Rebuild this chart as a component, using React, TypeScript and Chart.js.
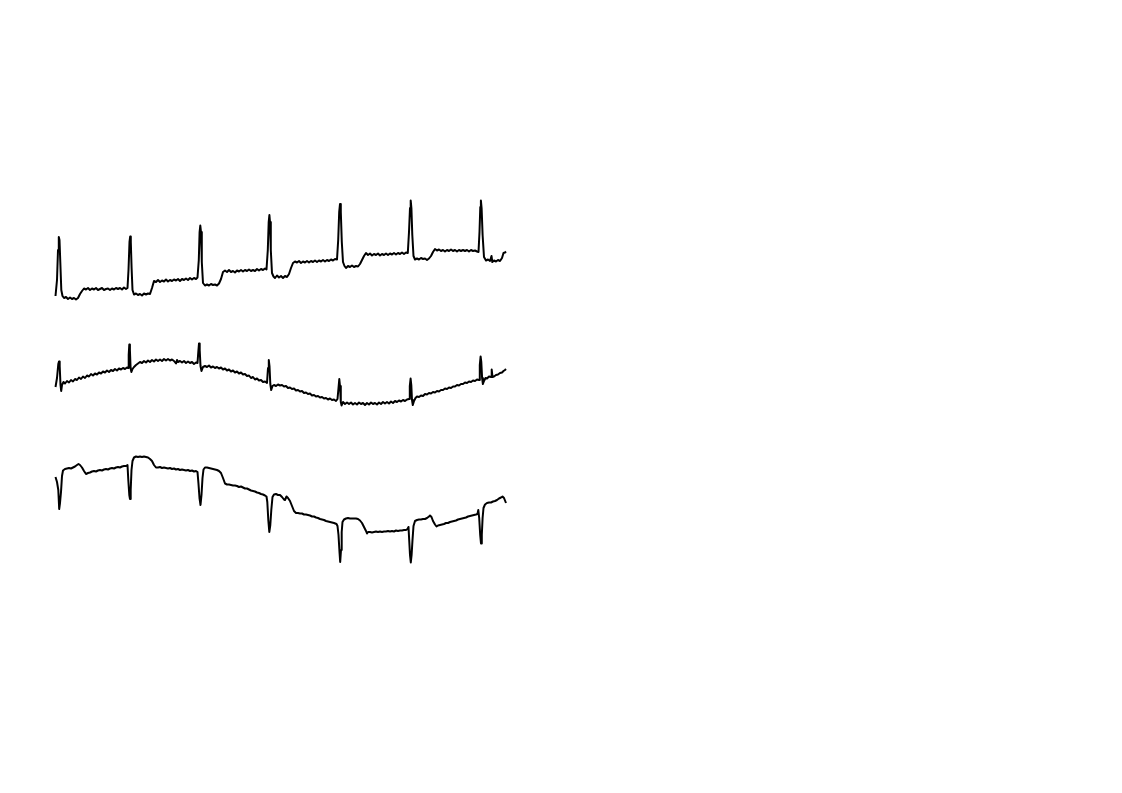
import React, { useEffect, useRef } from "react";
import { Chart, registerables } from "chart.js";

Chart.register(...registerables);

// Three ECG leads: [time (s), amplitude (mV)]
const leadI: [number, number][] = [
  [0.01,-0.12],[0.04,0.20],[0.06,0.80],[0.076,1.06],[0.09,1.00],[0.106,0.56],[0.126,0.00],[0.15,-0.12],[0.18,-0.16],
  [0.22,-0.14],[0.26,-0.18],[0.30,-0.15],[0.34,-0.18],[0.38,-0.16],[0.42,-0.19],[0.46,-0.16],[0.50,-0.08],[0.54,-0.02],
  [0.58,0.03],[0.62,0.01],[0.66,0.04],[0.70,0.00],[0.74,0.03],[0.78,0.01],[0.82,0.04],[0.86,0.00],[0.90,0.02],[0.94,0.04],
  [0.98,0.00],[1.02,0.02],[1.06,0.03],[1.10,0.00],[1.14,0.03],[1.18,0.01],[1.22,0.04],[1.26,0.02],[1.30,0.04],[1.34,0.01],
  [1.38,0.05],[1.42,0.02],[1.45,0.04],
  [1.47,0.40],[1.49,0.96],[1.504,1.07],[1.516,0.96],[1.532,0.44],[1.55,0.00],[1.58,-0.09],[1.62,-0.07],[1.66,-0.10],
  [1.70,-0.08],[1.74,-0.11],[1.78,-0.07],[1.82,-0.09],[1.86,-0.07],[1.90,-0.08],[1.94,0.04],[1.98,0.18],[2.02,0.16],
  [2.06,0.20],[2.10,0.16],[2.14,0.19],[2.18,0.17],[2.22,0.21],[2.26,0.17],[2.30,0.20],[2.34,0.18],[2.38,0.21],[2.42,0.19],
  [2.46,0.22],[2.50,0.18],[2.54,0.22],[2.58,0.20],[2.62,0.23],[2.66,0.20],[2.70,0.24],[2.74,0.21],[2.78,0.24],[2.82,0.22],
  [2.85,0.25],
  [2.876,0.60],[2.892,1.16],[2.906,1.29],[2.92,1.16],[2.936,0.56],[2.96,0.14],[3.00,0.09],[3.04,0.11],[3.08,0.09],
  [3.12,0.12],[3.16,0.10],[3.20,0.11],[3.24,0.09],[3.28,0.13],[3.32,0.22],[3.36,0.36],[3.40,0.39],[3.44,0.36],[3.48,0.40],
  [3.52,0.36],[3.56,0.38],[3.60,0.35],[3.64,0.39],[3.68,0.37],[3.72,0.40],[3.76,0.37],[3.80,0.40],[3.84,0.38],[3.88,0.41],
  [3.92,0.38],[3.96,0.40],[4.00,0.38],[4.04,0.42],[4.08,0.39],[4.12,0.42],[4.16,0.40],[4.20,0.43],[4.23,0.41],
  [4.256,0.80],[4.274,1.36],[4.288,1.50],[4.30,1.36],[4.316,0.80],[4.34,0.34],[4.37,0.27],[4.40,0.24],[4.44,0.29],
  [4.48,0.25],[4.52,0.28],[4.56,0.24],[4.60,0.28],[4.64,0.26],[4.68,0.32],[4.72,0.44],[4.76,0.54],[4.80,0.57],[4.84,0.55],
  [4.88,0.58],[4.92,0.54],[4.96,0.57],[5.00,0.55],[5.04,0.58],[5.08,0.55],[5.12,0.58],[5.16,0.56],[5.20,0.59],[5.24,0.56],
  [5.28,0.59],[5.32,0.57],[5.36,0.60],[5.40,0.57],[5.44,0.60],[5.48,0.58],[5.52,0.61],[5.56,0.59],[5.60,0.62],[5.64,0.61],
  [5.664,1.00],[5.684,1.56],[5.70,1.72],[5.716,1.56],[5.736,0.96],[5.76,0.56],[5.79,0.48],[5.82,0.44],[5.86,0.48],
  [5.90,0.46],[5.94,0.49],[5.98,0.46],[6.02,0.48],[6.06,0.47],[6.10,0.52],[6.14,0.60],[6.18,0.68],[6.22,0.74],[6.26,0.70],
  [6.30,0.73],[6.34,0.69],[6.38,0.72],[6.42,0.70],[6.46,0.73],[6.50,0.69],[6.54,0.72],[6.58,0.70],[6.62,0.73],[6.66,0.70],
  [6.70,0.73],[6.74,0.71],[6.78,0.74],[6.82,0.71],[6.86,0.74],[6.90,0.72],[6.94,0.75],[6.98,0.72],[7.02,0.75],[7.056,0.74],
  [7.08,1.16],[7.10,1.64],[7.114,1.79],[7.128,1.64],[7.146,1.10],[7.17,0.68],[7.20,0.61],[7.24,0.63],[7.28,0.61],
  [7.32,0.64],[7.36,0.62],[7.40,0.63],[7.44,0.60],[7.48,0.63],[7.52,0.68],[7.56,0.76],[7.60,0.82],[7.64,0.79],[7.68,0.81],
  [7.72,0.78],[7.76,0.80],[7.80,0.77],[7.84,0.80],[7.88,0.78],[7.92,0.81],[7.96,0.78],[8.00,0.80],[8.04,0.77],[8.08,0.80],
  [8.12,0.78],[8.16,0.80],[8.20,0.78],[8.24,0.80],[8.28,0.77],[8.32,0.80],[8.36,0.78],[8.40,0.79],[8.44,0.77],[8.47,0.76],
  [8.49,1.16],[8.506,1.66],[8.518,1.79],[8.532,1.64],[8.552,1.10],[8.58,0.66],[8.62,0.59],[8.66,0.61],[8.70,0.58],
  [8.73,0.68],[8.746,0.56],[8.78,0.59],[8.82,0.57],[8.86,0.60],[8.90,0.58],[8.94,0.64],[8.97,0.74],[9.00,0.75],[9.02,0.77],
];

const leadII: [number, number][] = [
  [0.01,-0.14],[0.04,0.04],[0.066,0.32],[0.08,0.37],[0.094,0.28],[0.11,-0.10],[0.124,-0.22],[0.14,-0.10],[0.17,-0.04],
  [0.20,-0.07],[0.24,-0.02],[0.28,-0.05],[0.32,0.00],[0.36,-0.03],[0.40,0.02],[0.44,0.00],[0.48,0.05],[0.52,0.02],
  [0.56,0.07],[0.60,0.04],[0.64,0.09],[0.68,0.07],[0.72,0.12],[0.76,0.09],[0.80,0.13],[0.84,0.11],[0.88,0.15],[0.92,0.13],
  [0.96,0.17],[1.00,0.15],[1.04,0.19],[1.08,0.16],[1.12,0.20],[1.16,0.18],[1.20,0.22],[1.24,0.19],[1.28,0.23],[1.32,0.21],
  [1.36,0.24],[1.40,0.22],[1.44,0.25],[1.46,0.24],
  [1.474,0.50],[1.486,0.71],[1.498,0.60],[1.512,0.24],[1.528,0.16],[1.55,0.22],[1.58,0.26],[1.62,0.30],[1.66,0.33],
  [1.70,0.36],[1.74,0.34],[1.78,0.38],[1.82,0.35],[1.86,0.39],[1.90,0.36],[1.94,0.40],[1.98,0.37],[2.02,0.41],[2.06,0.38],
  [2.10,0.41],[2.14,0.38],[2.18,0.42],[2.22,0.39],[2.26,0.42],[2.30,0.39],[2.34,0.41],[2.38,0.38],[2.42,0.33],[2.44,0.40],
  [2.46,0.36],[2.50,0.38],[2.54,0.35],[2.58,0.38],[2.62,0.34],[2.66,0.37],[2.70,0.34],[2.74,0.36],[2.78,0.32],[2.82,0.35],
  [2.85,0.34],
  [2.866,0.56],[2.88,0.73],[2.894,0.60],[2.91,0.28],[2.93,0.18],[2.96,0.26],[3.00,0.28],[3.04,0.26],[3.08,0.29],
  [3.12,0.25],[3.16,0.27],[3.20,0.24],[3.24,0.26],[3.28,0.23],[3.32,0.25],[3.36,0.21],[3.40,0.23],[3.44,0.19],[3.48,0.21],
  [3.52,0.17],[3.56,0.19],[3.60,0.15],[3.64,0.17],[3.68,0.13],[3.72,0.15],[3.76,0.11],[3.80,0.12],[3.84,0.08],[3.88,0.09],
  [3.92,0.04],[3.96,0.06],[4.00,0.01],[4.04,0.03],[4.08,-0.01],[4.12,0.00],[4.16,-0.04],[4.20,-0.03],[4.24,-0.06],
  [4.26,0.24],[4.276,0.40],[4.29,0.28],[4.306,-0.08],[4.324,-0.20],[4.35,-0.12],[4.38,-0.10],[4.42,-0.12],[4.46,-0.09],
  [4.50,-0.11],[4.54,-0.10],[4.58,-0.13],[4.62,-0.12],[4.66,-0.16],[4.70,-0.15],[4.74,-0.18],[4.78,-0.17],[4.82,-0.21],
  [4.86,-0.20],[4.90,-0.23],[4.94,-0.22],[4.98,-0.26],[5.02,-0.25],[5.06,-0.28],[5.10,-0.27],[5.14,-0.31],[5.18,-0.30],
  [5.22,-0.33],[5.26,-0.32],[5.30,-0.35],[5.34,-0.34],[5.38,-0.37],[5.42,-0.36],[5.46,-0.39],[5.50,-0.37],[5.54,-0.40],
  [5.58,-0.39],[5.62,-0.42],[5.65,-0.38],
  [5.67,-0.16],[5.686,0.02],[5.70,-0.12],[5.716,-0.44],[5.732,-0.51],[5.76,-0.44],[5.80,-0.48],[5.84,-0.45],[5.88,-0.48],
  [5.92,-0.45],[5.96,-0.49],[6.00,-0.46],[6.04,-0.49],[6.08,-0.45],[6.12,-0.48],[6.16,-0.46],[6.20,-0.50],[6.24,-0.46],
  [6.28,-0.49],[6.32,-0.45],[6.36,-0.48],[6.40,-0.46],[6.44,-0.49],[6.48,-0.45],[6.52,-0.48],[6.56,-0.44],[6.60,-0.47],
  [6.64,-0.44],[6.68,-0.47],[6.72,-0.43],[6.76,-0.46],[6.80,-0.42],[6.84,-0.44],[6.88,-0.41],[6.92,-0.43],[6.96,-0.40],
  [7.00,-0.42],[7.04,-0.39],[7.08,-0.38],
  [7.096,-0.12],[7.112,0.03],[7.126,-0.10],[7.14,-0.40],[7.156,-0.50],[7.18,-0.42],[7.21,-0.36],[7.24,-0.33],[7.28,-0.34],
  [7.32,-0.31],[7.36,-0.32],[7.40,-0.28],[7.44,-0.29],[7.48,-0.26],[7.52,-0.27],[7.56,-0.24],[7.60,-0.25],[7.64,-0.22],
  [7.68,-0.23],[7.72,-0.20],[7.76,-0.20],[7.80,-0.17],[7.84,-0.18],[7.88,-0.15],[7.92,-0.16],[7.96,-0.13],[8.00,-0.13],
  [8.04,-0.10],[8.08,-0.11],[8.12,-0.08],[8.16,-0.08],[8.20,-0.05],[8.24,-0.06],[8.28,-0.03],[8.32,-0.04],[8.36,-0.01],
  [8.40,-0.02],[8.44,0.01],[8.48,0.00],
  [8.496,0.30],[8.512,0.47],[8.526,0.36],[8.542,0.04],[8.558,-0.08],[8.58,-0.02],[8.61,0.04],[8.64,0.03],[8.68,0.07],
  [8.72,0.06],[8.734,0.21],[8.75,0.06],[8.78,0.07],[8.82,0.10],[8.86,0.11],[8.90,0.14],[8.94,0.15],[8.97,0.18],[9.00,0.20],
  [9.02,0.22],
];

const leadIII: [number, number][] = [
  [0.01,0.46],[0.04,0.36],[0.066,0.20],[0.084,-0.18],[0.10,-0.06],[0.12,0.16],[0.14,0.48],[0.16,0.59],[0.20,0.62],
  [0.24,0.63],[0.28,0.64],[0.32,0.63],[0.36,0.65],[0.40,0.67],[0.44,0.70],[0.47,0.72],[0.50,0.70],[0.54,0.65],[0.58,0.58],
  [0.62,0.52],[0.66,0.54],[0.70,0.55],[0.74,0.57],[0.78,0.58],[0.82,0.57],[0.86,0.59],[0.90,0.60],[0.94,0.59],[0.98,0.61],
  [1.02,0.62],[1.06,0.61],[1.10,0.63],[1.14,0.64],[1.18,0.63],[1.22,0.65],[1.26,0.66],[1.30,0.65],[1.34,0.67],[1.38,0.68],
  [1.42,0.68],[1.45,0.70],
  [1.466,0.40],[1.486,0.10],[1.50,0.02],[1.514,0.20],[1.53,0.60],[1.55,0.78],[1.58,0.85],[1.62,0.87],[1.66,0.86],
  [1.70,0.87],[1.74,0.86],[1.78,0.87],[1.82,0.86],[1.86,0.85],[1.90,0.82],[1.94,0.78],[1.98,0.70],[2.02,0.65],[2.06,0.65],
  [2.10,0.66],[2.14,0.64],[2.18,0.65],[2.22,0.64],[2.26,0.63],[2.30,0.64],[2.34,0.62],[2.38,0.63],[2.42,0.61],[2.46,0.62],
  [2.50,0.60],[2.54,0.61],[2.58,0.60],[2.62,0.59],[2.66,0.60],[2.70,0.58],[2.74,0.59],[2.78,0.57],[2.82,0.58],[2.85,0.56],
  [2.87,0.32],[2.89,0.04],[2.91,-0.10],[2.93,0.10],[2.95,0.44],[2.97,0.61],[3.00,0.65],[3.04,0.65],[3.08,0.64],
  [3.12,0.63],[3.16,0.62],[3.20,0.61],[3.24,0.60],[3.28,0.58],[3.32,0.54],[3.36,0.44],[3.40,0.33],[3.44,0.31],[3.48,0.31],
  [3.52,0.30],[3.56,0.29],[3.60,0.29],[3.64,0.28],[3.68,0.26],[3.72,0.27],[3.76,0.25],[3.80,0.23],[3.84,0.23],[3.88,0.21],
  [3.92,0.19],[3.96,0.18],[4.00,0.17],[4.04,0.15],[4.08,0.14],[4.12,0.12],[4.16,0.11],[4.20,0.09],[4.23,0.07],
  [4.246,-0.04],[4.266,-0.40],[4.286,-0.64],[4.306,-0.50],[4.326,-0.20],[4.35,0.06],[4.38,0.11],[4.42,0.12],[4.46,0.10],
  [4.50,0.10],[4.54,0.06],[4.58,0.01],[4.60,0.00],[4.63,0.07],[4.66,0.04],[4.70,-0.02],[4.74,-0.12],[4.78,-0.22],
  [4.82,-0.26],[4.86,-0.26],[4.90,-0.27],[4.94,-0.27],[4.98,-0.29],[5.02,-0.29],[5.06,-0.30],[5.10,-0.31],[5.14,-0.33],
  [5.18,-0.33],[5.22,-0.35],[5.26,-0.36],[5.30,-0.38],[5.34,-0.39],[5.38,-0.40],[5.42,-0.42],[5.46,-0.43],[5.50,-0.44],
  [5.54,-0.45],[5.58,-0.46],[5.63,-0.48],
  [5.65,-0.52],[5.67,-0.70],[5.69,-1.04],[5.704,-1.24],[5.72,-1.00],[5.734,-0.64],[5.75,-0.44],[5.78,-0.39],[5.82,-0.37],
  [5.86,-0.36],[5.90,-0.37],[5.94,-0.37],[5.98,-0.37],[6.02,-0.37],[6.06,-0.38],[6.10,-0.41],[6.14,-0.46],[6.18,-0.54],
  [6.22,-0.62],[6.24,-0.67],[6.26,-0.64],[6.30,-0.64],[6.34,-0.65],[6.38,-0.64],[6.42,-0.63],[6.46,-0.64],[6.50,-0.63],
  [6.54,-0.64],[6.58,-0.63],[6.62,-0.63],[6.66,-0.62],[6.70,-0.63],[6.74,-0.62],[6.78,-0.63],[6.82,-0.61],[6.86,-0.62],
  [6.90,-0.61],[6.94,-0.61],[6.98,-0.60],[7.02,-0.60],[7.05,-0.58],[7.07,-0.54],
  [7.084,-0.80],[7.10,-1.10],[7.116,-1.25],[7.132,-1.10],[7.15,-0.80],[7.17,-0.52],[7.20,-0.42],[7.24,-0.40],[7.28,-0.39],
  [7.32,-0.39],[7.36,-0.38],[7.40,-0.38],[7.44,-0.36],[7.48,-0.33],[7.50,-0.31],[7.53,-0.34],[7.56,-0.42],[7.60,-0.49],
  [7.63,-0.53],[7.66,-0.51],[7.70,-0.50],[7.74,-0.49],[7.78,-0.48],[7.82,-0.46],[7.86,-0.46],[7.90,-0.44],[7.94,-0.43],
  [7.98,-0.42],[8.02,-0.41],[8.06,-0.39],[8.10,-0.38],[8.14,-0.37],[8.18,-0.36],[8.22,-0.35],[8.26,-0.33],[8.30,-0.32],
  [8.34,-0.31],[8.38,-0.30],[8.42,-0.29],[8.45,-0.28],[8.466,-0.20],[8.484,-0.36],
  [8.504,-0.70],[8.52,-0.87],[8.536,-0.70],[8.552,-0.36],[8.57,-0.16],[8.60,-0.09],[8.64,-0.06],[8.68,-0.05],[8.72,-0.05],
  [8.76,-0.03],[8.80,-0.02],[8.84,0.00],[8.88,0.03],[8.92,0.05],[8.95,0.07],[8.98,0.04],[9.00,-0.01],[9.02,-0.06],
];

// Vertical placement of each lead (mV on the shared amplitude axis)
const leadOffsets = [5.6, 3.8, 1.4];
const leadNames = ["I", "II", "III"];
const leads = [leadI, leadII, leadIII];

export default function App() {
  const ref = useRef<HTMLCanvasElement | null>(null);

  useEffect(() => {
    if (!ref.current) return;
    const chart = new Chart(ref.current, {
      type: "line",
      data: {
        datasets: leads.map((lead, i) => ({
          label: leadNames[i],
          data: lead.map(([t, v]) => ({ x: t, y: v + leadOffsets[i] })),
          borderColor: "#000000",
          borderWidth: 2,
          borderJoinStyle: "round" as const,
          pointRadius: 0,
          tension: 0,
          fill: false,
          clip: false as any,
        })),
      },
      options: {
        animation: false,
        responsive: false,
        devicePixelRatio: 1,
        layout: { padding: { left: 55, right: 616, top: 190, bottom: 223 } },
        plugins: { legend: { display: false }, tooltip: { enabled: false }, title: { display: false } },
        scales: {
          x: { type: "linear", min: 0, max: 9.02, display: false },
          y: { type: "linear", min: 0, max: 7.6, display: false },
        },
        events: [],
      },
    });
    return () => chart.destroy();
  }, []);

  return (
    <div style={{ position: "absolute", left: 0, top: 0, width: 1122, height: 793, background: "#fff" }}>
      <canvas ref={ref} width={1122} height={793} style={{ display: "block", width: 1122, height: 793 }} />
    </div>
  );
}
